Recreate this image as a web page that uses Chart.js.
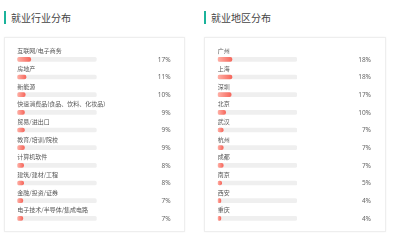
<!DOCTYPE html>
<html>
<head>
<meta charset="utf-8">
<script src="https://cdn.jsdelivr.net/npm/chart.js@4"></script>
<style>
  html, body { margin: 0; padding: 0; background: #fff; }
  body { width: 397px; height: 240px; position: relative; overflow: hidden; font-family: "Noto Sans CJK SC", "Noto Sans", sans-serif; }
  .title { position: absolute; top: 11px; height: 13px; line-height: 13px; font-size: 10px; color: #444; border-left: 2px solid #1bb39b; padding-left: 5px; }
  .card { position: absolute; top: 37px; width: 179px; height: 193px; border: 1px solid #eeeeee; box-shadow: 0 0 2px rgba(0,0,0,0.05); }
  .wrap { position: absolute; top: 0; width: 197px; height: 240px; }
</style>
</head>
<body>
<div class="title" style="left:4px">就业行业分布</div>
<div class="title" style="left:204px">就业地区分布</div>
<div class="card" style="left:4px"></div>
<div class="card" style="left:204px; width:180px"></div>
<div class="wrap" style="left:0"><canvas id="industryChart"></canvas></div>
<div class="wrap" style="left:197px; width:200px"><canvas id="regionChart"></canvas></div>
<script>
// industry distribution
const industryLabels = ["互联网/电子商务", "房地产", "新能源", "快速消费品(食品、饮料、化妆品)", "贸易/进出口",
  "教育/培训/院校", "计算机软件", "建筑/建材/工程", "金融/投资/证券", "电子技术/半导体/集成电路"];
const industryValues = [17, 11, 10, 9, 9, 9, 8, 8, 7, 7];

// region distribution
const regionLabels = ["广州", "上海", "深圳", "北京", "武汉", "杭州", "成都", "南京", "西安", "重庆"];
const regionValues = [18, 18, 17, 10, 7, 7, 7, 5, 4, 4];

const trackMax = 100;

function barGradient(ctx) {
  const chart = ctx.chart;
  if (!chart.chartArea || ctx.parsed === undefined) return "#f87a6e";
  const x = chart.scales.x;
  const x0 = x.getPixelForValue(0);
  const x1 = x.getPixelForValue(ctx.parsed.x);
  const g = chart.ctx.createLinearGradient(x0, 0, Math.max(x1, x0 + 1), 0);
  g.addColorStop(0, "#ffb0a6");
  g.addColorStop(1, "#f6675c");
  return g;
}

const textPlugin = {
  id: "rowText",
  afterDatasetsDraw(chart, args, opts) {
    const c = chart.ctx;
    const meta = chart.getDatasetMeta(0);
    const left = chart.chartArea.left;
    c.save();
    meta.data.forEach((bar, i) => {
      c.textBaseline = "middle";
      c.font = "6px 'Noto Sans CJK SC'";
      c.fillStyle = "#555";
      c.textAlign = "left";
      c.fillText(chart.data.labels[i], left, bar.y - 8.3);
      c.font = "6.5px 'Noto Sans', 'Noto Sans CJK SC'";
      c.fillStyle = "#666";
      c.textAlign = "right";
      c.fillText(chart.data.datasets[0].data[i] + "%", opts.pctX, bar.y + 0.6);
    });
    c.restore();
  }
};

function makeChart(id, labels, values, pad, pctX) {
  return new Chart(document.getElementById(id), {
    type: "bar",
    data: {
      labels: labels,
      datasets: [
        {
          data: values,
          backgroundColor: barGradient,
          barThickness: 4,
          borderRadius: 2,
          borderSkipped: false,
          grouped: false,
          order: 0
        },
        {
          data: labels.map(() => trackMax),
          backgroundColor: "#efefef",
          barThickness: 4,
          borderRadius: 2,
          borderSkipped: false,
          grouped: false,
          order: 1
        }
      ]
    },
    options: {
      indexAxis: "y",
      responsive: true,
      maintainAspectRatio: false,
      animation: false,
      layout: { padding: pad },
      scales: {
        x: { min: 0, max: trackMax, display: false },
        y: { display: false }
      },
      plugins: {
        legend: { display: false },
        tooltip: { enabled: false },
        rowText: { pctX: pctX }
      }
    },
    plugins: [textPlugin]
  });
}

makeChart("industryChart", industryLabels, industryValues,
  { left: 17.3, right: 100.3, top: 50.5, bottom: 12.8 }, 170.7);
makeChart("regionChart", regionLabels, regionValues,
  { left: 20.7, right: 100, top: 50.5, bottom: 12.8 }, 174);
</script>
</body>
</html>
